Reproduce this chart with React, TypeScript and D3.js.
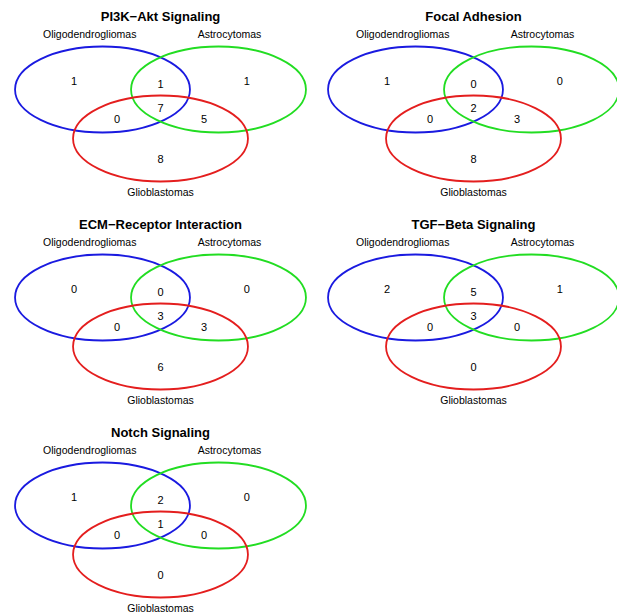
import React, { useEffect, useRef } from "react";
import * as d3 from "d3";

// pathway panels, in reading order
const titles = [
  "PI3K\u2212Akt Signaling",
  "Focal Adhesion",
  "ECM\u2212Receptor Interaction",
  "TGF\u2212Beta Signaling",
  "Notch Signaling",
];

const setNames = ["Oligodendrogliomas", "Astrocytomas", "Glioblastomas"];

// region order: O only, A only, G only, O&A, O&G, A&G, O&A&G
const pi3kCounts = [1, 1, 8, 1, 0, 5, 7];
const focalCounts = [1, 0, 8, 0, 0, 3, 2];
const ecmCounts = [0, 0, 6, 0, 0, 3, 3];
const tgfCounts = [2, 1, 0, 5, 0, 0, 3];
const notchCounts = [1, 0, 0, 2, 0, 0, 1];

const allCounts = [pi3kCounts, focalCounts, ecmCounts, tgfCounts, notchCounts];

const W = 617;
const H = 614;

const App = () => {
  const ref = useRef<SVGSVGElement | null>(null);

  useEffect(() => {
    const svg = d3.select(ref.current);
    svg.selectAll("*").remove();

    const colors = ["#1a1ae0", "#22dd22", "#e41e1e"];
    const font = "'Liberation Sans', Arial, Helvetica, sans-serif";

    // grid of panels
    const col = d3.scaleLinear().domain([0, 1]).range([160.5, 473.5]);
    const row = d3.scaleLinear().domain([0, 1]).range([0, 208]);

    // ellipse centres in layout units: O(-1,0) A(1,0) G(0,1)
    const circles = [
      { x: -1, y: 0 },
      { x: 1, y: 0 },
      { x: 0, y: 1 },
    ];
    // region label positions in layout units (same order as counts)
    const regionPos = [
      { x: -1.49, y: -0.18 },
      { x: 1.49, y: -0.18 },
      { x: 0, y: 1.42 },
      { x: 0, y: -0.12 },
      { x: -0.75, y: 0.6 },
      { x: 0.75, y: 0.6 },
      { x: 0, y: 0.38 },
    ];

    allCounts.forEach((counts, i) => {
      const cx = col(i % 2);
      const top = row(Math.floor(i / 2));
      const x = d3.scaleLinear().domain([-1, 1]).range([cx - 58, cx + 58]);
      const y = d3.scaleLinear().domain([0, 1]).range([top + 89.5, top + 138.5]);
      const rx = x(1.508) - x(0);
      const ry = y(0.878) - y(0);

      const g = svg.append("g");

      g.append("text")
        .attr("x", cx)
        .attr("y", top + 20.5)
        .attr("text-anchor", "middle")
        .attr("font-family", font)
        .attr("font-weight", "bold")
        .attr("font-size", 13)
        .text(titles[i]);

      g.selectAll("ellipse")
        .data(circles)
        .join("ellipse")
        .attr("cx", (d) => x(d.x))
        .attr("cy", (d) => y(d.y))
        .attr("rx", rx)
        .attr("ry", ry)
        .attr("fill", "none")
        .attr("stroke", (d, j) => colors[j])
        .attr("stroke-width", 1.8);

      const labelPos = [
        { x: -1.22, y: top + 38 },
        { x: 1.19, y: top + 38 },
        { x: 0, y: top + 196 },
      ];
      g.selectAll("text.set")
        .data(labelPos)
        .join("text")
        .attr("class", "set")
        .attr("x", (d) => x(d.x))
        .attr("y", (d) => d.y)
        .attr("text-anchor", "middle")
        .attr("font-family", font)
        .attr("font-size", 10.5)
        .text((d, j) => setNames[j]);

      g.selectAll("text.count")
        .data(counts)
        .join("text")
        .attr("class", "count")
        .attr("x", (d, j) => x(regionPos[j].x))
        .attr("y", (d, j) => y(regionPos[j].y) + 4)
        .attr("text-anchor", "middle")
        .attr("font-family", font)
        .attr("font-size", 11)
        .text((d) => d);
    });
  }, []);

  return (
    <svg
      ref={ref}
      width={W}
      height={H}
      viewBox={`0 0 ${W} ${H}`}
      style={{ position: "absolute", left: 0, top: 0, background: "#fff" }}
    />
  );
};

export default App;
